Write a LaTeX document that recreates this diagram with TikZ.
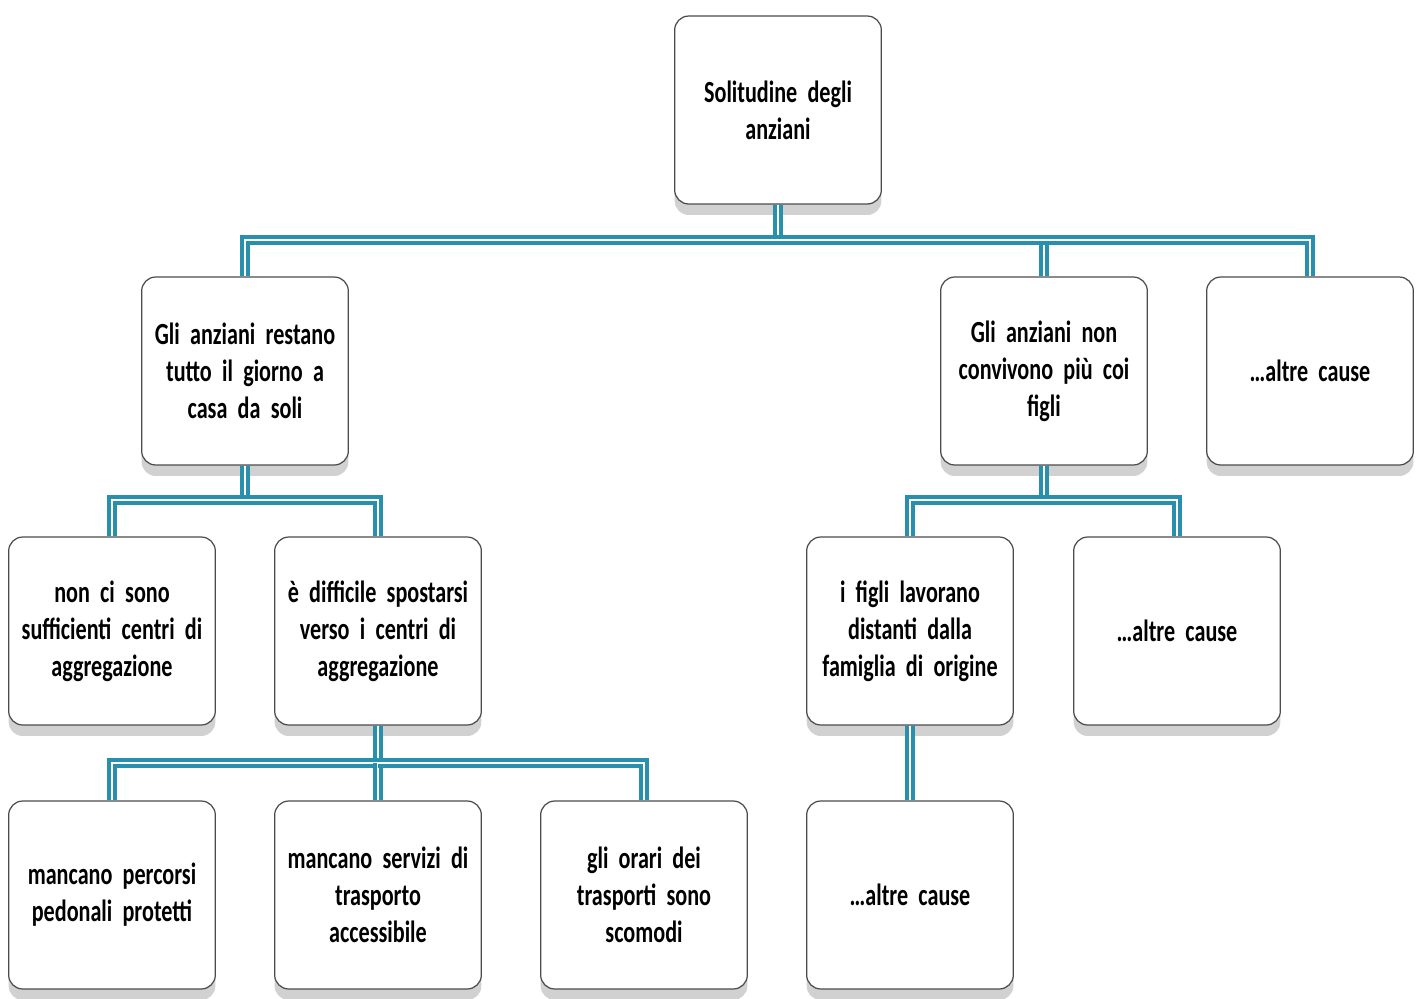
\documentclass[tikz,border=0pt]{standalone}
\usepackage{fontspec}
\setmainfont{Carlito}[FakeStretch=0.72, WordSpace=0.4]
\usetikzlibrary{shadows}

\definecolor{linkteal}{RGB}{40,143,172}

\begin{document}
\begin{tikzpicture}[x=0.02cm,y=-0.02cm,
    box/.style={draw=gray!60!black, line width=0.7pt, rounded corners=8pt, fill=white,
        minimum width=4.08cm, minimum height=3.76cm, text width=3.9cm, align=center,
        font=\bfseries\fontsize{17.5}{21}\selectfont,
        drop shadow={shadow xshift=0pt, shadow yshift=-0.22cm, fill=gray!45, opacity=0.8}},
    link/.style={draw=linkteal, line width=2.6pt, double=white, double distance=0.6pt}]

    \useasboundingbox (0,0) rectangle (1423,998);

    % connectors first, the boxes go over them
    \coordinate (j0) at (778,240);
    \coordinate (j1) at (245,500);
    \coordinate (j2) at (378,763);
    \coordinate (j3) at (1044,500);

    \node[box] (root) at (778,110) {Solitudine degli\\anziani};

    \node[box] (ca) at (245,371) {Gli anziani restano\\tutto il giorno a\\casa da soli};
    \node[box] (cb) at (1044,371) {Gli anziani non\\convivono più coi\\figli};
    \node[box] (cc) at (1310,371) {…altre cause};

    \node[box] (caa) at (112,631) {non ci sono\\sufficienti centri di\\aggregazione};
    \node[box] (cab) at (378,631) {è difficile spostarsi\\verso i centri di\\aggregazione};
    \node[box] (cba) at (910,631) {i figli lavorano\\distanti dalla\\famiglia di origine};
    \node[box] (cbb) at (1177,631) {…altre cause};

    \node[box] (caba) at (112,895) {mancano percorsi\\pedonali protetti};
    \node[box] (cabb) at (378,895) {mancano servizi di\\trasporto\\accessibile};
    \node[box] (cabc) at (644,895) {gli orari dei\\trasporti sono\\scomodi};
    \node[box] (cbaa) at (910,895) {…altre cause};

    \draw[link] (root.south) -- (j0);
    \foreach \c in {ca,cb,cc}{
        \draw[link] (j0) -| (\c.north);
    }

    \draw[link] (ca.south) -- (j1);
    \foreach \c in {caa,cab}{
        \draw[link] (j1) -| (\c.north);
    }

    \draw[link] (cab.south) -- (j2);
    \foreach \c in {caba,cabb,cabc}{
        \draw[link] (j2) -| (\c.north);
    }

    \draw[link] (cb.south) -- (j3);
    \foreach \c in {cba,cbb}{
        \draw[link] (j3) -| (\c.north);
    }

    \draw[link] (cba.south) -- (cbaa.north);
\end{tikzpicture}
\end{document}
